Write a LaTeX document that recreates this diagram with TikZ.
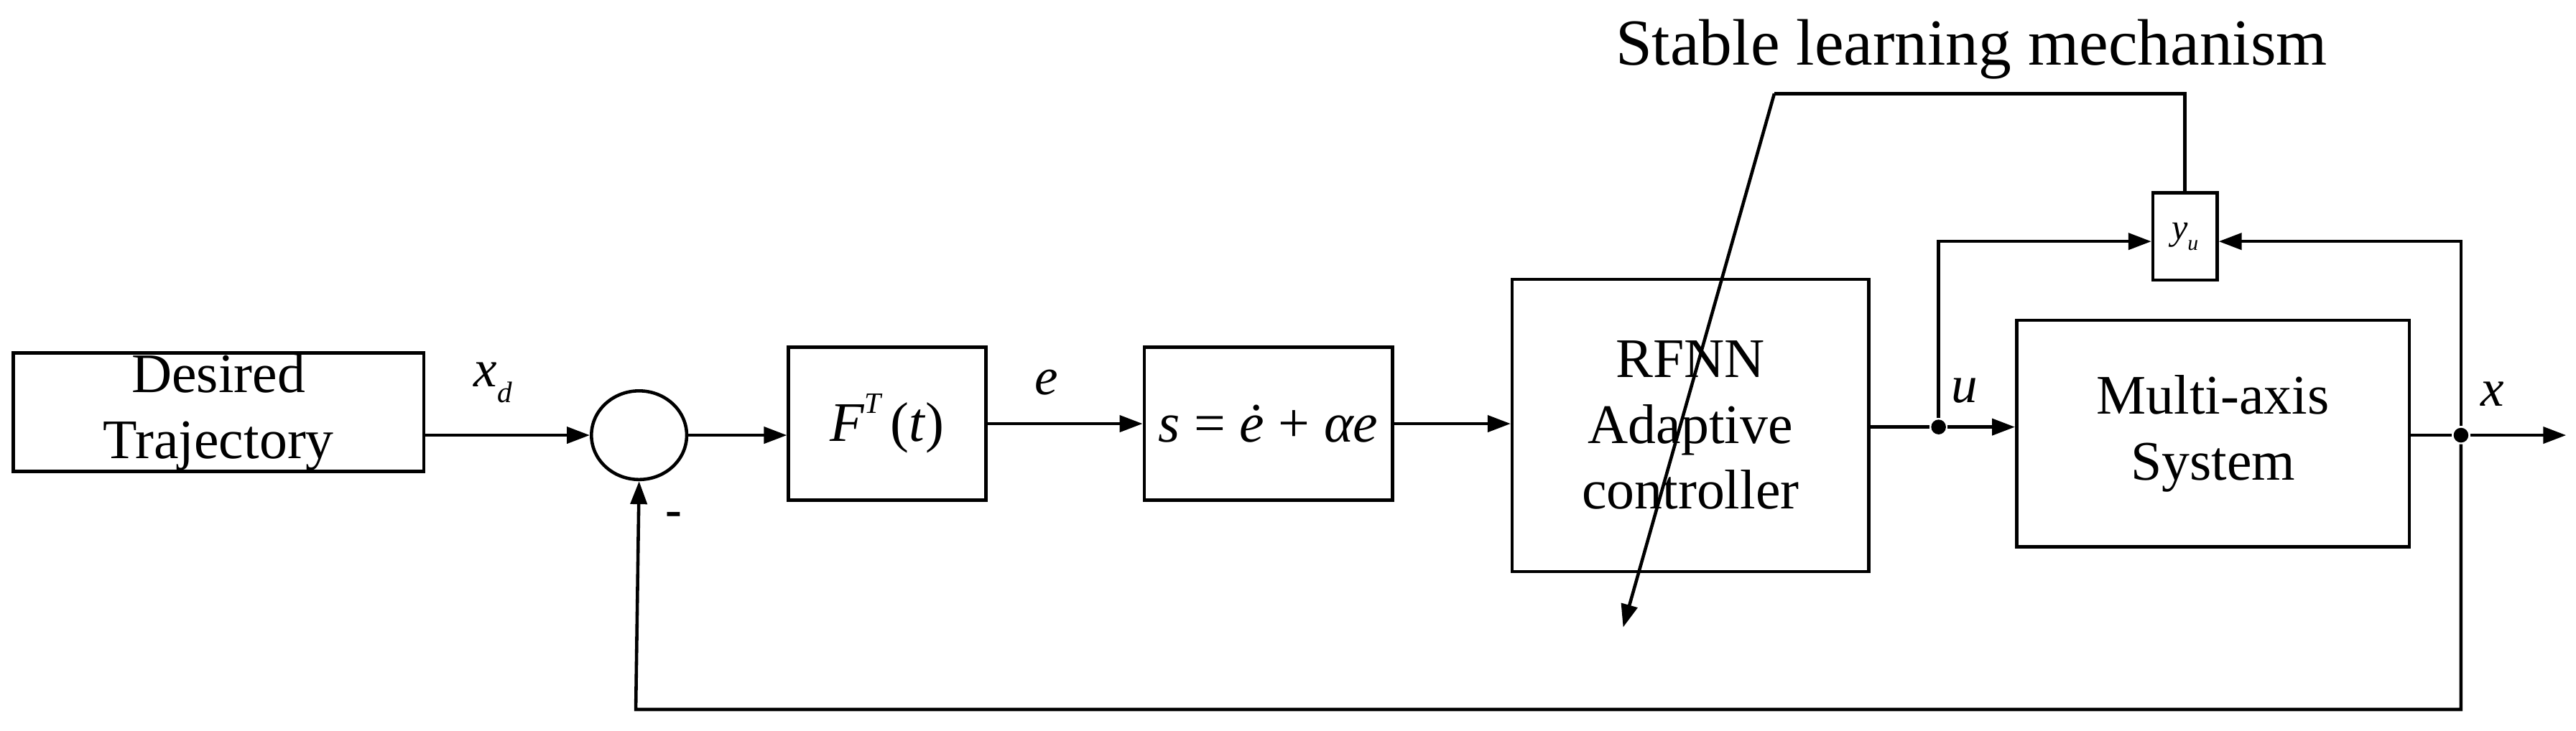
\documentclass[tikz,border=0pt]{standalone}
\usepackage{fontspec}
\setmainfont{Liberation Serif}
\usetikzlibrary{arrows.meta,shapes.geometric}
\begin{document}
\begin{tikzpicture}[x=1pt,y=-1pt,line width=2pt,
  blk/.style={draw,inner sep=0pt,font=\fontsize{34}{40}\selectfont,align=center},
  lbl/.style={font=\fontsize{32}{38}\selectfont\itshape},
  arr/.style={-{Triangle[length=14pt,width=10pt]}},
  dot/.style={circle,fill,inner sep=0pt,minimum size=9pt}]
\useasboundingbox (0,0) rectangle (1568,445);
\node[blk,minimum width=250,minimum height=72] (dt) at (133,251) {Desired\\Trajectory};
\node[draw,ellipse,minimum width=58,minimum height=54,inner sep=0pt] (sum) at (389,265) {};
\node[blk,minimum width=120,minimum height=93] (f) at (540,258) {\textit{F}\raisebox{0.5em}{\fontsize{18}{20}\selectfont\itshape T}\,(\textit{t})};
\node[blk,minimum width=151,minimum height=93] (s) at (772,258) {\textit{s} = \textit{\.{e}} + \textit{αe}};
\node[blk,minimum width=217,minimum height=178] (r) at (1029,259) {RFNN\\Adaptive\\controller};
\node[blk,minimum width=239,minimum height=138] (m) at (1347,264) {Multi-axis\\System};
\node[blk,minimum width=39,minimum height=53,font=\fontsize{22}{24}\selectfont\itshape] (y) at (1330,144) {y\raisebox{-0.3em}{\fontsize{13}{14}\selectfont u}};
\node[font=\fontsize{40}{46}\selectfont] (t) at (1200,30) {Stable learning mechanism};
\node[dot] (du) at (1180,260) {};
\node[dot] (dx) at (1498,265) {};
\coordinate (xe) at (1562,265);
\coordinate (fb1) at (1498,432);
\coordinate (fb2) at (387,432);
\coordinate (ux) at (1180,147);
\coordinate (xt) at (1498,147);
\coordinate (yt) at (1330,57);
\coordinate (lt) at (1080,57);
\coordinate (le) at (988,382);
\draw[arr] (dt.east |- 0,265) -- (sum.west);
\draw[arr] (sum.east) -- (f.west |- sum.east);
\draw[arr] (f.east |- 0,258) -- (s.west);
\draw[arr] (s.east) -- (r.west |- s.east);
\draw (r.east |- du) -- (du);
\draw[arr] (du) -- (m.west |- du);
\draw (m.east |- dx) -- (dx);
\draw[arr] (dx) -- (xe);
\draw[arr] (dx) -- (fb1) -- (fb2) -- (sum.south);
\draw[arr] (du) -- (ux) -- (y.west |- ux);
\draw[arr] (dx) -- (xt) -- (y.east |- xt);
\draw (y.north) -- (yt) -- (lt);
\draw[arr] (lt) -- (le);
\node[lbl] (lxd) at (300,233) {x\raisebox{-0.3em}{\fontsize{18}{20}\selectfont d}};
\node[lbl] (le2) at (637,233) {e};
\node[lbl] (lu) at (1196,238) {u};
\node[lbl] (lx) at (1517,240) {x};
\node[font=\fontsize{30}{36}\selectfont\bfseries] (lm) at (410,316) {-};
\end{tikzpicture}
\end{document}
